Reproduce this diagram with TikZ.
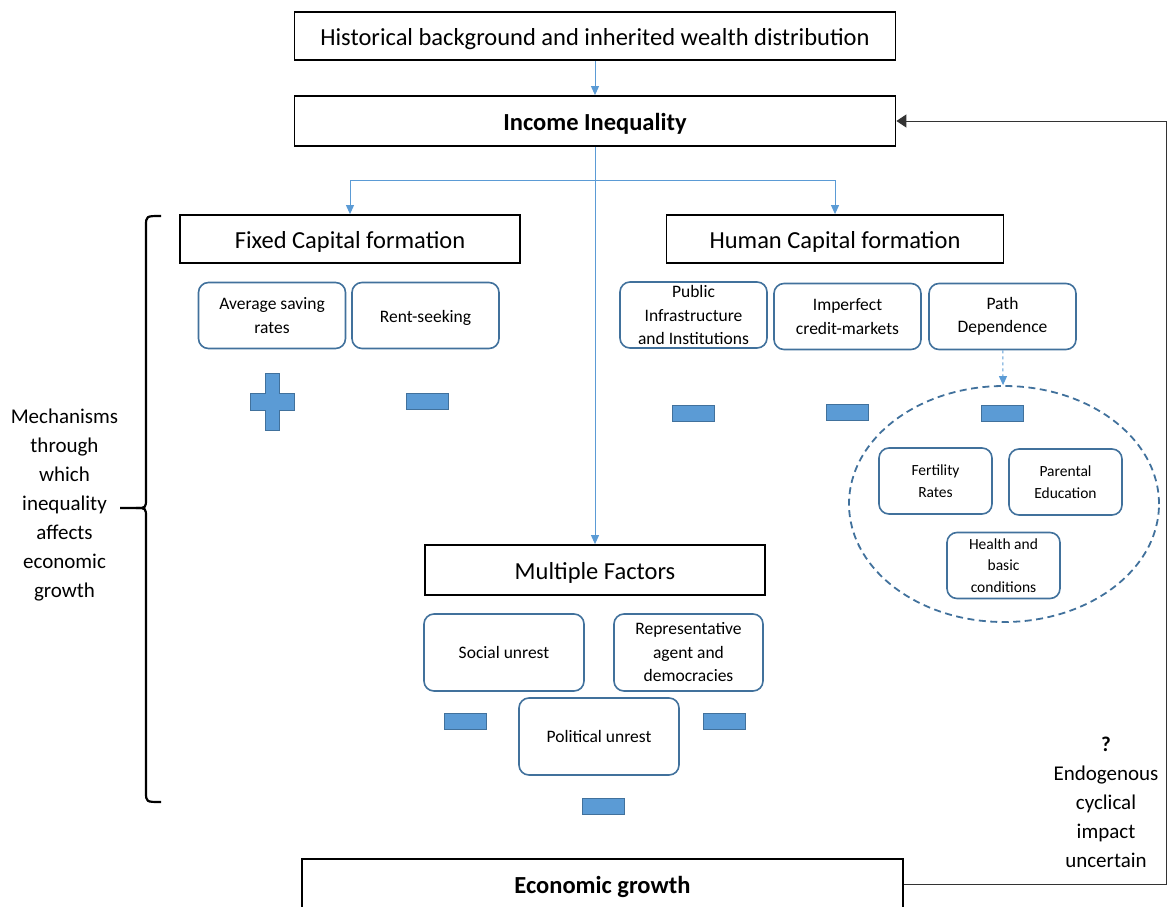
\documentclass[tikz,border=0pt]{standalone}
\usepackage{fontspec}
\setmainfont{Carlito}
\usepackage{xcolor}
\usetikzlibrary{arrows.meta,shapes.geometric}
\definecolor{linkblue}{HTML}{5B9BD5}
\definecolor{edgeblue}{HTML}{41719C}
\definecolor{signblue}{HTML}{5B9BD5}
\tikzset{
  head/.style={draw=black, line width=1.8pt, inner sep=0pt, minimum height=48pt, text height=24pt, text depth=5.2pt, font=\fontsize{24.5}{28}\selectfont},
  headb/.style={head, font=\fontsize{24.5}{28}\selectfont\bfseries},
  item/.style={draw=edgeblue, line width=1.6pt, rounded corners=10pt, inner sep=0pt, align=center, minimum width=147pt, minimum height=66pt, font=\fontsize{17.5}{23.5}\selectfont},
  itemsm/.style={item, minimum width=113pt, font=\fontsize{15.5}{21.5}\selectfont},
  neg/.style={fill=signblue, draw=edgeblue, line width=0.8pt, inner sep=0pt, minimum width=42pt, minimum height=16pt},
  plussign/.style={fill=signblue, draw=edgeblue, line width=0.8pt},
  link/.style={draw=linkblue, line width=1pt, -{Triangle[length=9pt,width=8pt]}},
  dlink/.style={link, dashed},
  back/.style={draw=black!80, line width=1pt, -{Triangle[length=10pt,width=13pt]}},
  bracket/.style={draw=black, line width=2.2pt},
  cloud/.style={ellipse, draw=edgeblue, line width=1.8pt, dash pattern=on 7pt off 4.5pt, minimum width=310pt, minimum height=236pt, inner sep=0pt},
  lab/.style={align=center, font=\fontsize{21}{29}\selectfont},
}
\begin{document}
\begin{tikzpicture}[x=1pt, y=-1pt]
  \useasboundingbox (0,0) rectangle (1167,907);

  % top of the chain
  \node[head, minimum width=601pt] (hist) at (595,36) {Historical background and inherited wealth distribution};
  \node[headb, minimum width=601pt, minimum height=50pt] (ineq) at (595,121) {Income Inequality};
  \draw[link] (hist) -- (ineq);

  % the three channels
  \node[head, minimum width=340pt] (fixed) at (350,239) {Fixed Capital formation};
  \node[head, minimum width=337pt] (human) at (835,239) {Human Capital formation};
  \node[head, minimum width=340pt, minimum height=50pt] (multi) at (595,570) {Multiple Factors};

  \coordinate (split) at (595,180);
  \draw[link] (ineq) -- (multi);
  \draw[link, -] (split) -- (split -| fixed);
  \draw[link] (split -| fixed) -- (fixed);
  \draw[link, -] (split) -- (split -| human);
  \draw[link] (split -| human) -- (human);

  % fixed capital
  \node[item] (saving) at (272,315.5) {Average saving\\rates};
  \node[item, text height=15pt, text depth=0.5pt] (rent) at (425.5,315.5) {Rent-seeking};
  \draw[plussign] (265,373) -- (279,373) -- (279,393) -- (294,393) -- (294,410) -- (279,410)
    -- (279,430) -- (265,430) -- (265,410) -- (250,410) -- (250,393) -- (265,393) -- cycle;
  \node[neg] (rentneg) at (427,401.5) {};

  % human capital
  \node[item] (infra) at (693.5,315) {Public\\Infrastructure\\and Institutions};
  \node[item] (credit) at (847.5,316.5) {Imperfect\\credit-markets};
  \node[item] (pathdep) at (1002.5,316.5) {Path\\Dependence};
  \node[neg] (infraneg) at (693,413) {};
  \node[neg] (creditneg) at (847.5,412) {};
  \node[neg] (pathneg) at (1002.5,413) {};

  \node[cloud] (family) at (1004,504) {};
  \draw[dlink] (pathdep) -- (family);
  \node[itemsm] (fert) at (935.5,481) {Fertility\\Rates};
  \node[itemsm] (parent) at (1065.5,482) {Parental\\Education};
  \node[itemsm] (health) at (1003.5,565.5) {Health and\\basic\\conditions};

  % multiple factors
  \node[item, minimum width=160pt, minimum height=77pt] (social) at (504,652.5) {Social unrest};
  \node[item, minimum width=149pt, minimum height=77pt] (repr) at (688.5,652.5) {Representative\\agent and\\democracies};
  \node[item, minimum width=160pt, minimum height=77pt] (polit) at (599,736.5) {Political unrest};
  \node[neg] (socialneg) at (465.5,721) {};
  \node[neg] (reprneg) at (724,721) {};
  \node[neg] (politneg) at (603,806) {};

  % outcome and feedback
  \node[headb, minimum width=601pt, minimum height=50pt] (growth) at (602.5,884) {Economic growth};
  \draw[back] (growth.east) -- ++(263,0) |- (ineq.east);

  % side notes
  \draw[bracket] (161,216) .. controls (146,216) .. (146,226) -- (146,498)
    .. controls (146,508) .. (136,508) -- (120,508);
  \draw[bracket] (136,508) .. controls (146,508) .. (146,518) -- (146,792)
    .. controls (146,802) .. (161,802);
  \node[lab] (mech) at (64.5,505) {Mechanisms\\through\\which\\inequality\\affects\\economic\\growth};
  \node[lab] (endo) at (1106,802.5) {\textbf{?}\\Endogenous\\cyclical\\impact\\uncertain};
\end{tikzpicture}
\end{document}
